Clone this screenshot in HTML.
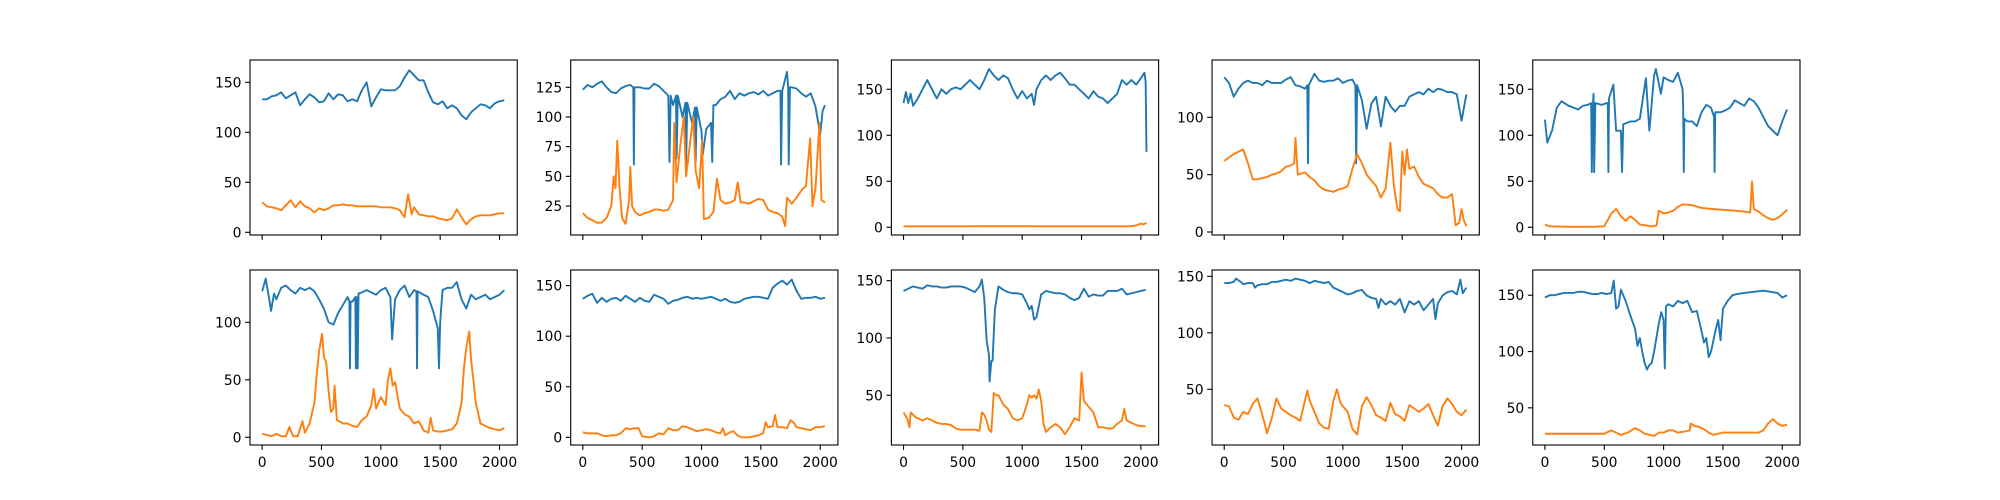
<!DOCTYPE html>
<html><head><meta charset="utf-8"><style>
html,body{margin:0;padding:0;background:#fff;}
svg{display:block;}
text{font-family:"DejaVu Sans","Liberation Sans",sans-serif;font-size:13.9px;fill:#000;}
</style></head><body>
<svg id="fig" width="2000" height="500" viewBox="0 0 2000 500"></svg>
<script>
const xTicks=[0,500,1000,1500,2000];
const xDomain=[-102.35,2149.35];
const yDomains=[[-2.7,172.3],[0.6,148],[-8.4,181.8],[-2.6,150],[-8.4,181.8],[-6.7,145.5],[-7.6,165.5],[6.6,159.3],[0.7,155.6],[17,172.4]];
const yTicks=[[0,50,100,150],[25,50,75,100,125],[0,50,100,150],[0,50,100],[0,50,100,150],[0,50,100],[0,50,100,150],[50,100,150],[50,100,150],[50,100,150]];
const p1Blue=[[0,133],[40,133],[80,136],[120,137],[160,140],[200,134],[240,137],[280,140],[320,127],[360,133],[400,138],[440,135],[480,130],[520,131],[560,139],[600,133],[640,138],[680,137],[720,131],[760,133],[800,131],[840,142],[880,150],[920,126],[960,135],[1000,143],[1040,142],[1080,142],[1120,142],[1160,146],[1200,155],[1240,162],[1280,157],[1320,152],[1360,152],[1400,140],[1440,130],[1480,128],[1520,131],[1560,124],[1600,127],[1640,124],[1680,117],[1720,113],[1760,120],[1800,124],[1840,128],[1880,127],[1920,124],[1960,129],[2000,131],[2040,132]];
const p1Orange=[[0,30],[40,26],[80,25],[120,24],[160,22],[200,27],[240,32],[280,25],[320,31],[360,26],[400,24],[440,20],[480,24],[520,22],[560,24],[600,27],[640,27],[680,28],[720,27],[760,27],[800,26],[840,26],[880,26],[920,26],[960,26],[1000,25],[1040,25],[1080,25],[1120,24],[1160,22],[1200,15],[1230,38],[1260,18],[1280,25],[1320,18],[1360,17],[1400,16],[1440,16],[1480,14],[1520,13],[1560,12],[1600,14],[1640,23],[1680,15],[1720,8],[1760,13],[1800,16],[1840,17],[1880,17],[1920,17],[1960,18],[2000,19],[2040,19]];
const p2Blue=[[0,123],[40,127],[80,125],[120,128],[160,130],[200,125],[240,121],[280,120],[320,124],[360,126],[400,127],[425,125],[430,60],[435,125],[480,125],[520,124],[560,124],[600,128],[640,126],[680,122],[720,118],[730,62],[740,118],[760,110],[785,118],[790,65],[800,118],[840,100],[865,112],[870,60],[880,112],[920,95],[945,108],[950,62],[960,108],[1000,88],[1010,68],[1040,90],[1080,95],[1090,62],[1100,110],[1120,110],[1160,115],[1200,117],[1240,122],[1280,115],[1320,120],[1360,118],[1400,120],[1440,121],[1480,119],[1520,122],[1560,118],[1600,120],[1640,122],[1665,122],[1670,60],[1680,122],[1720,138],[1730,125],[1735,60],[1745,125],[1760,125],[1800,124],[1840,120],[1880,117],[1920,120],[1960,109],[2000,85],[2020,105],[2040,110]];
const p2Orange=[[0,19],[40,15],[80,13],[120,11],[160,11],[200,15],[240,25],[260,50],[275,40],[290,80],[310,40],[330,15],[360,10],[390,30],[400,58],[415,25],[440,20],[480,17],[520,19],[560,20],[600,22],[640,22],[680,21],[720,22],[760,30],[770,95],[790,45],[820,75],[850,100],[870,50],[900,75],[930,100],[950,55],[980,40],[1005,80],[1020,14],[1060,15],[1100,20],[1130,48],[1160,30],[1200,27],[1240,28],[1280,30],[1305,45],[1330,28],[1360,28],[1400,27],[1440,29],[1480,31],[1520,30],[1560,22],[1600,20],[1640,19],[1680,16],[1705,8],[1720,32],[1760,27],[1800,32],[1840,38],[1880,42],[1915,82],[1935,25],[1960,40],[1994,95],[2010,30],[2040,28]];
const p3Blue=[[0,135],[20,147],[40,135],[60,145],[80,132],[120,140],[160,150],[200,160],[240,150],[280,140],[320,150],[360,145],[400,150],[440,152],[480,150],[520,155],[560,160],[600,155],[640,150],[680,160],[720,172],[760,165],[800,160],[840,165],[880,162],[920,150],[960,140],[1000,148],[1040,140],[1080,145],[1100,133],[1120,150],[1160,160],[1200,165],[1240,160],[1280,165],[1320,168],[1360,162],[1400,155],[1440,155],[1480,150],[1520,145],[1560,140],[1600,148],[1640,142],[1680,140],[1720,135],[1760,140],[1800,145],[1840,160],[1880,155],[1920,160],[1960,155],[2000,162],[2030,168],[2040,158],[2047,82]];
const p3Orange=[[0,1],[400,1],[800,1.2],[1200,1],[1600,1],[1900,1],[1960,2],[2000,4],[2020,3],[2047,5]];
const p4Blue=[[0,135],[40,130],[80,118],[120,125],[160,130],[200,132],[240,130],[280,130],[320,128],[360,132],[400,130],[440,130],[480,130],[520,133],[560,135],[600,128],[640,127],[680,125],[700,128],[706,60],[712,128],[760,138],[800,132],[840,131],[880,132],[920,132],[960,134],[1000,130],[1040,132],[1080,133],[1105,128],[1112,60],[1120,128],[1160,115],[1200,90],[1240,112],[1280,118],[1320,92],[1360,118],[1400,110],[1440,105],[1480,110],[1520,110],[1560,118],[1600,120],[1640,122],[1680,120],[1720,125],[1760,122],[1800,125],[1840,124],[1880,122],[1920,122],[1960,120],[2000,97],[2040,120]];
const p4Orange=[[0,62],[40,65],[80,68],[120,70],[160,72],[200,60],[240,46],[280,46],[320,47],[360,48],[400,50],[440,51],[480,53],[520,57],[560,58],[590,60],[600,82],[620,50],[680,52],[720,48],[760,45],[800,40],[840,37],[880,36],[920,35],[960,37],[1000,38],[1040,40],[1080,55],[1120,68],[1160,60],[1200,50],[1240,45],[1280,40],[1320,30],[1360,38],[1400,78],[1430,40],[1460,20],[1480,18],[1500,70],[1520,50],[1540,72],[1560,55],[1600,57],[1640,48],[1680,42],[1720,40],[1760,38],[1800,33],[1840,30],[1880,30],[1920,33],[1950,6],[1980,8],[2000,20],[2020,10],[2040,5]];
const p5Blue=[[0,117],[20,92],[60,105],[100,130],[140,137],[200,132],[240,130],[280,128],[320,132],[360,133],[390,135],[395,60],[405,135],[410,145],[415,60],[425,135],[480,133],[520,135],[530,135],[535,60],[540,140],[577,155],[600,105],[640,105],[650,60],[660,112],[720,115],[760,115],[800,118],[851,162],[880,105],[920,165],[935,172],[977,145],[1000,163],[1040,160],[1080,158],[1120,168],[1160,150],[1165,130],[1170,60],[1175,118],[1200,115],[1240,115],[1280,110],[1320,125],[1360,133],[1400,130],[1425,120],[1430,60],[1435,125],[1480,125],[1520,127],[1560,130],[1600,138],[1640,135],[1680,132],[1720,140],[1760,137],[1800,130],[1840,120],[1880,110],[1920,105],[1960,100],[2000,115],[2040,128]];
const p5Orange=[[0,3],[40,1],[200,0.5],[400,0.5],[500,1],[560,15],[600,20],[640,12],[680,7],[720,12],[760,8],[800,3],[900,1],[940,2],[960,18],[1000,15],[1040,16],[1080,18],[1120,22],[1160,25],[1240,24],[1320,21],[1400,20],[1500,19],[1600,18],[1680,17],[1730,16],[1745,50],[1760,20],[1800,17],[1840,13],[1880,10],[1920,8],[1960,10],[2000,14],[2040,19]];
const p6Blue=[[0,127],[30,138],[60,120],[75,110],[100,125],[120,120],[160,130],[200,132],[240,128],[280,125],[320,130],[360,128],[400,130],[440,127],[480,120],[520,112],[560,100],[600,98],[640,108],[680,115],[720,122],[735,118],[740,60],[745,118],[760,118],[785,122],[790,60],[798,122],[805,60],[812,125],[840,126],[880,128],[920,126],[960,124],[1000,128],[1040,130],[1080,122],[1095,85],[1120,120],[1160,128],[1200,132],[1240,122],[1280,128],[1300,127],[1305,60],[1310,127],[1360,124],[1400,122],[1440,110],[1480,95],[1490,60],[1500,100],[1520,128],[1560,130],[1600,130],[1640,135],[1680,120],[1720,112],[1760,124],[1800,120],[1840,122],[1880,124],[1920,120],[1960,122],[2000,124],[2040,128]];
const p6Orange=[[0,3],[40,2],[80,1],[120,3],[160,1],[200,1],[230,9],[260,1],[300,1],[340,14],[360,4],[400,12],[440,30],[460,55],[480,75],[505,90],[520,70],[540,65],[560,40],[580,22],[600,25],[610,45],[630,15],[680,12],[720,12],[760,10],[800,9],[840,15],[880,18],[920,28],[940,42],[960,25],[1000,35],[1040,28],[1060,50],[1080,60],[1100,45],[1120,48],[1160,25],[1200,20],[1240,18],[1280,12],[1320,14],[1360,6],[1400,4],[1420,17],[1440,6],[1480,5],[1520,5],[1560,6],[1600,7],[1640,12],[1680,30],[1700,60],[1720,78],[1745,92],[1760,68],[1780,50],[1800,30],[1840,12],[1880,10],[1920,8],[1960,7],[2000,6],[2040,8]];
const p7Blue=[[0,137],[40,140],[80,142],[120,133],[160,138],[200,134],[240,137],[280,138],[320,135],[360,140],[400,137],[440,134],[480,138],[520,135],[560,134],[600,141],[640,139],[680,137],[720,132],[760,135],[800,136],[840,138],[880,139],[920,137],[960,138],[1000,137],[1040,138],[1080,139],[1120,137],[1160,135],[1200,137],[1240,134],[1280,133],[1320,134],[1360,137],[1400,138],[1440,139],[1480,139],[1520,138],[1560,137],[1600,148],[1640,152],[1680,155],[1720,151],[1760,156],[1800,145],[1840,137],[1880,138],[1920,138],[1960,139],[2000,137],[2040,138]];
const p7Orange=[[0,5],[40,4],[80,4],[120,4],[160,2],[200,1],[240,2],[280,2],[320,4],[360,9],[400,8],[440,9],[470,9],[500,1],[560,0],[600,1],[640,4],[680,3],[720,9],[760,7],[800,7],[840,11],[880,10],[920,8],[960,6],[1000,7],[1040,8],[1080,7],[1120,5],[1160,4],[1180,9],[1200,2],[1240,5],[1270,6],[1300,2],[1340,0],[1400,0],[1440,1],[1480,2],[1520,4],[1540,15],[1560,10],[1600,11],[1620,22],[1640,10],[1680,10],[1720,9],[1750,17],[1780,14],[1800,10],[1840,9],[1880,8],[1920,7],[1960,10],[2000,10],[2040,11]];
const p8Blue=[[0,141],[40,143],[80,145],[120,144],[160,143],[200,146],[240,145],[280,145],[320,144],[360,144],[400,145],[440,145],[480,145],[520,144],[560,142],[600,140],[640,145],[660,151],[680,135],[700,98],[720,85],[725,62],[740,80],[750,80],[770,125],[800,145],[840,142],[880,140],[920,139],[960,139],[1000,138],[1040,130],[1060,125],[1080,128],[1100,116],[1120,118],[1160,138],[1200,141],[1240,140],[1280,139],[1320,139],[1360,138],[1400,135],[1440,133],[1480,135],[1520,143],[1560,136],[1600,138],[1640,137],[1680,137],[1720,141],[1760,141],[1800,141],[1840,143],[1880,138],[1920,139],[1960,140],[2000,141],[2040,142]];
const p8Orange=[[0,35],[30,30],[50,22],[60,35],[100,31],[160,28],[200,30],[240,28],[280,26],[320,25],[360,25],[400,24],[440,21],[480,20],[520,20],[560,20],[600,20],[640,19],[660,35],[680,33],[700,28],[720,20],[740,18],[760,52],[780,50],[800,50],[840,42],[880,38],[920,30],[960,28],[1000,30],[1040,42],[1060,50],[1080,48],[1100,50],[1120,47],[1140,55],[1160,45],[1180,25],[1200,18],[1240,22],[1280,25],[1320,22],[1360,16],[1400,22],[1440,30],[1480,28],[1500,70],[1520,45],[1560,40],[1600,35],[1640,22],[1680,22],[1720,21],[1760,21],[1800,25],[1840,28],[1860,38],[1880,28],[1920,26],[1960,24],[2000,23],[2040,23]];
const p9Blue=[[0,144],[40,144],[80,145],[100,148],[140,145],[160,143],[200,144],[240,144],[260,140],[280,142],[320,143],[360,143],[400,145],[440,145],[480,146],[520,147],[560,146],[600,148],[640,147],[680,146],[720,144],[760,146],[800,145],[840,144],[880,145],[920,140],[960,138],[1000,136],[1040,134],[1080,135],[1120,137],[1160,138],[1200,133],[1240,131],[1280,130],[1300,122],[1320,130],[1360,125],[1400,128],[1440,125],[1480,130],[1520,118],[1560,128],[1600,125],[1640,128],[1680,120],[1720,125],[1760,130],[1780,112],[1800,126],[1840,133],[1880,136],[1920,137],[1960,134],[1990,147],[2010,135],[2040,140]];
const p9Orange=[[0,36],[40,35],[80,25],[120,23],[160,30],[200,28],[240,37],[280,42],[300,35],[340,20],[360,11],[400,24],[440,42],[480,33],[520,30],[560,27],[600,25],[640,22],[680,40],[700,49],[720,40],[760,30],[800,20],[840,16],[880,15],[920,40],[950,50],[980,38],[1000,35],[1040,30],[1080,15],[1120,10],[1160,35],[1200,43],[1240,36],[1280,27],[1320,25],[1360,22],[1400,38],[1440,28],[1480,26],[1520,22],[1560,36],[1600,33],[1640,30],[1680,33],[1720,37],[1760,27],[1800,18],[1840,35],[1880,42],[1920,37],[1960,30],[2000,27],[2040,32]];
const p10Blue=[[0,148],[40,150],[80,150],[120,151],[160,152],[200,152],[240,152],[280,153],[320,153],[360,152],[400,151],[440,151],[480,152],[520,151],[560,152],[580,163],[600,138],[620,140],[640,155],[680,145],[720,132],[760,120],[780,105],[800,112],[820,100],[840,90],[860,84],[880,88],[900,90],[920,100],[960,125],[980,135],[1000,128],[1010,85],[1020,140],[1040,142],[1080,140],[1120,145],[1160,143],[1200,145],[1240,135],[1280,136],[1320,118],[1340,108],[1360,112],[1380,95],[1400,100],[1440,120],[1460,128],[1480,110],[1500,138],[1540,145],[1580,150],[1620,151],[1680,152],[1760,153],[1840,154],[1900,153],[1960,152],[2000,148],[2040,150]];
const p10Orange=[[0,27],[200,27],[400,27],[500,27],[560,30],[600,28],[640,26],[700,28],[760,32],[800,30],[840,27],[880,26],[920,25],[960,28],[1000,28],[1040,30],[1080,30],[1120,28],[1180,29],[1220,30],[1230,36],[1260,34],[1300,33],[1340,31],[1380,28],[1420,26],[1460,27],[1500,28],[1600,28],[1700,28],[1800,28],[1840,30],[1880,36],[1920,40],[1960,36],[2000,34],[2040,35]];
const blueSeries=[p1Blue,p2Blue,p3Blue,p4Blue,p5Blue,p6Blue,p7Blue,p8Blue,p9Blue,p10Blue];
const orangeSeries=[p1Orange,p2Orange,p3Orange,p4Orange,p5Orange,p6Orange,p7Orange,p8Orange,p9Orange,p10Orange];

const NS='http://www.w3.org/2000/svg';
const svg=document.getElementById('fig');
const axW=267.24, axH=175, gap=53.45;
const rowTop=[60,270];
function mk(tag,attrs,parent){const e=document.createElementNS(NS,tag);for(const k in attrs)e.setAttribute(k,attrs[k]);parent.appendChild(e);return e;}
for(let p=0;p<10;p++){
  const r=Math.floor(p/5), c=p%5;
  const x0=250+c*(axW+gap), y0=rowTop[r];
  const g=mk('g',{},svg);
  
  
  const yd=yDomains[p];
  const sx=v=>x0+(v-xDomain[0])/(xDomain[1]-xDomain[0])*axW;
  const sy=v=>y0+axH-(v-yd[0])/(yd[1]-yd[0])*axH;
  const clipId='clip'+p;
  const cp=mk('clipPath',{id:clipId},g);
  mk('rect',{x:x0,y:y0,width:axW,height:axH},cp);
  [[blueSeries[p],'#1f77b4','blue-line'],[orangeSeries[p],'#ff7f0e','orange-line']].forEach(([data,col,nm])=>{
    const d=data.map((pt,i)=>(i?'L':'M')+sx(pt[0]).toFixed(2)+' '+sy(pt[1]).toFixed(2)).join('');
    const path=mk('path',{d:d,fill:'none',stroke:col,'stroke-width':1.9,'stroke-linejoin':'round','clip-path':'url(#'+clipId+')'},g);
    
    
  });
  const frame=mk('rect',{x:x0,y:y0,width:axW,height:axH,fill:'none',stroke:'#000','stroke-width':1.1},g);
  
  
  xTicks.forEach(t=>{
    const X=sx(t);
    const tk=mk('line',{x1:X,x2:X,y1:y0+axH,y2:y0+axH+4.9,stroke:'#000','stroke-width':1.1},g);
    
    
    if(r===1){
      const tx=mk('text',{x:X,y:y0+axH+22,'text-anchor':'middle'},g);
      tx.textContent=t;
      
      
    }
  });
  yTicks[p].forEach(t=>{
    const Y=sy(t);
    const tk=mk('line',{x1:x0-4.9,x2:x0,y1:Y,y2:Y,stroke:'#000','stroke-width':1.1},g);
    
    
    const tx=mk('text',{x:x0-8.5,y:Y+5,'text-anchor':'end'},g);
    tx.textContent=t;
    
    
  });
}
</script>
</body></html>
